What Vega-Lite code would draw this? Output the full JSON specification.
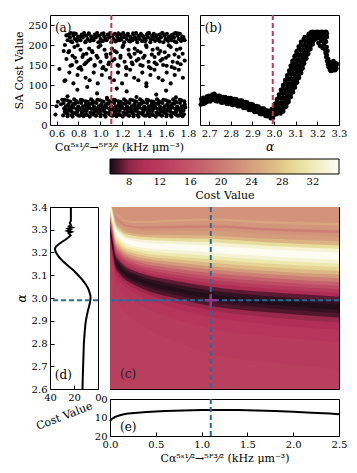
{
"$schema": "https://vega.github.io/schema/vega-lite/v6.json",
"padding": {"left": 13, "top": 13, "right": 4, "bottom": 4},
"bounds": "flush",
"spacing": 192,
"resolve": {"scale": {"x": "independent", "y": "independent", "color": "independent"}, "legend": {"color": "independent"}},
"config": {
  "font": "DejaVu Serif",
  "view": {"stroke": "#000", "strokeWidth": 1},
  "axis": {"domain": false, "grid": false, "labelFont": "DejaVu Serif", "labelFontSize": 10, "labelColor": "#000", "titleFont": "DejaVu Serif", "titleFontSize": 11, "titleFontWeight": "normal", "titleColor": "#000", "tickColor": "#000", "tickSize": -4, "labelPadding": 7, "titlePadding": 3, "labelFlush": false, "labelOverlap": false},
  "text": {"font": "DejaVu Serif"}
},
"datasets": {
"sa": [
{"x":0.660,"y":24},{"x":0.669,"y":41},{"x":0.664,"y":55},{"x":0.675,"y":33},{"x":0.672,"y":63},
{"x":0.688,"y":30},{"x":0.684,"y":47},{"x":0.695,"y":62},{"x":0.700,"y":22},{"x":0.692,"y":38},
{"x":0.703,"y":27},{"x":0.712,"y":36},{"x":0.707,"y":51},{"x":0.718,"y":44},{"x":0.715,"y":59},
{"x":0.731,"y":35},{"x":0.727,"y":58},{"x":0.738,"y":25},{"x":0.743,"y":49},{"x":0.735,"y":42},
{"x":0.746,"y":21},{"x":0.755,"y":44},{"x":0.750,"y":31},{"x":0.761,"y":64},{"x":0.758,"y":53},
{"x":0.774,"y":29},{"x":0.770,"y":53},{"x":0.781,"y":40},{"x":0.786,"y":26},{"x":0.778,"y":60},
{"x":0.789,"y":33},{"x":0.798,"y":46},{"x":0.793,"y":57},{"x":0.804,"y":23},{"x":0.801,"y":39},
{"x":0.817,"y":24},{"x":0.813,"y":41},{"x":0.824,"y":55},{"x":0.829,"y":33},{"x":0.821,"y":63},
{"x":0.832,"y":30},{"x":0.841,"y":47},{"x":0.836,"y":62},{"x":0.847,"y":22},{"x":0.844,"y":38},
{"x":0.860,"y":27},{"x":0.856,"y":36},{"x":0.867,"y":51},{"x":0.872,"y":44},{"x":0.864,"y":59},
{"x":0.875,"y":35},{"x":0.884,"y":58},{"x":0.879,"y":25},{"x":0.890,"y":49},{"x":0.887,"y":42},
{"x":0.903,"y":21},{"x":0.899,"y":44},{"x":0.910,"y":31},{"x":0.915,"y":64},{"x":0.907,"y":53},
{"x":0.918,"y":29},{"x":0.927,"y":53},{"x":0.922,"y":40},{"x":0.933,"y":26},{"x":0.930,"y":60},
{"x":0.946,"y":33},{"x":0.942,"y":46},{"x":0.953,"y":57},{"x":0.958,"y":23},{"x":0.950,"y":39},
{"x":0.961,"y":24},{"x":0.970,"y":41},{"x":0.965,"y":55},{"x":0.976,"y":33},{"x":0.973,"y":63},
{"x":0.989,"y":30},{"x":0.985,"y":47},{"x":0.996,"y":62},{"x":1.001,"y":22},{"x":0.993,"y":38},
{"x":1.004,"y":27},{"x":1.013,"y":36},{"x":1.008,"y":51},{"x":1.019,"y":44},{"x":1.016,"y":59},
{"x":1.032,"y":35},{"x":1.028,"y":58},{"x":1.039,"y":25},{"x":1.044,"y":49},{"x":1.036,"y":42},
{"x":1.047,"y":21},{"x":1.056,"y":44},{"x":1.051,"y":31},{"x":1.062,"y":64},{"x":1.059,"y":53},
{"x":1.075,"y":29},{"x":1.071,"y":53},{"x":1.082,"y":40},{"x":1.087,"y":26},{"x":1.079,"y":60},
{"x":1.090,"y":33},{"x":1.099,"y":46},{"x":1.094,"y":57},{"x":1.105,"y":23},{"x":1.102,"y":39},
{"x":1.118,"y":24},{"x":1.114,"y":41},{"x":1.125,"y":55},{"x":1.130,"y":33},{"x":1.122,"y":63},
{"x":1.133,"y":30},{"x":1.142,"y":47},{"x":1.137,"y":62},{"x":1.148,"y":22},{"x":1.145,"y":38},
{"x":1.161,"y":27},{"x":1.157,"y":36},{"x":1.168,"y":51},{"x":1.173,"y":44},{"x":1.165,"y":59},
{"x":1.176,"y":35},{"x":1.185,"y":58},{"x":1.180,"y":25},{"x":1.191,"y":49},{"x":1.188,"y":42},
{"x":1.204,"y":21},{"x":1.200,"y":44},{"x":1.211,"y":31},{"x":1.216,"y":64},{"x":1.208,"y":53},
{"x":1.219,"y":29},{"x":1.228,"y":53},{"x":1.223,"y":40},{"x":1.234,"y":26},{"x":1.231,"y":60},
{"x":1.247,"y":33},{"x":1.243,"y":46},{"x":1.254,"y":57},{"x":1.259,"y":23},{"x":1.251,"y":39},
{"x":1.262,"y":24},{"x":1.271,"y":41},{"x":1.266,"y":55},{"x":1.277,"y":33},{"x":1.274,"y":63},
{"x":1.290,"y":30},{"x":1.286,"y":47},{"x":1.297,"y":62},{"x":1.302,"y":22},{"x":1.294,"y":38},
{"x":1.305,"y":27},{"x":1.314,"y":36},{"x":1.309,"y":51},{"x":1.320,"y":44},{"x":1.317,"y":59},
{"x":1.333,"y":35},{"x":1.329,"y":58},{"x":1.340,"y":25},{"x":1.345,"y":49},{"x":1.337,"y":42},
{"x":1.348,"y":21},{"x":1.357,"y":44},{"x":1.352,"y":31},{"x":1.363,"y":64},{"x":1.360,"y":53},
{"x":1.376,"y":29},{"x":1.372,"y":53},{"x":1.383,"y":40},{"x":1.388,"y":26},{"x":1.380,"y":60},
{"x":1.391,"y":33},{"x":1.400,"y":46},{"x":1.395,"y":57},{"x":1.406,"y":23},{"x":1.403,"y":39},
{"x":1.419,"y":24},{"x":1.415,"y":41},{"x":1.426,"y":55},{"x":1.431,"y":33},{"x":1.423,"y":63},
{"x":1.434,"y":30},{"x":1.443,"y":47},{"x":1.438,"y":62},{"x":1.449,"y":22},{"x":1.446,"y":38},
{"x":1.462,"y":27},{"x":1.458,"y":36},{"x":1.469,"y":51},{"x":1.474,"y":44},{"x":1.466,"y":59},
{"x":1.477,"y":35},{"x":1.486,"y":58},{"x":1.481,"y":25},{"x":1.492,"y":49},{"x":1.489,"y":42},
{"x":1.505,"y":21},{"x":1.501,"y":44},{"x":1.512,"y":31},{"x":1.517,"y":64},{"x":1.509,"y":53},
{"x":1.520,"y":29},{"x":1.529,"y":53},{"x":1.524,"y":40},{"x":1.535,"y":26},{"x":1.532,"y":60},
{"x":1.548,"y":33},{"x":1.544,"y":46},{"x":1.555,"y":57},{"x":1.560,"y":23},{"x":1.552,"y":39},
{"x":1.563,"y":24},{"x":1.572,"y":41},{"x":1.567,"y":55},{"x":1.578,"y":33},{"x":1.575,"y":63},
{"x":1.591,"y":30},{"x":1.587,"y":47},{"x":1.598,"y":62},{"x":1.603,"y":22},{"x":1.595,"y":38},
{"x":1.606,"y":27},{"x":1.615,"y":36},{"x":1.610,"y":51},{"x":1.621,"y":44},{"x":1.618,"y":59},
{"x":1.634,"y":35},{"x":1.630,"y":58},{"x":1.641,"y":25},{"x":1.646,"y":49},{"x":1.638,"y":42},
{"x":1.649,"y":21},{"x":1.658,"y":44},{"x":1.653,"y":31},{"x":1.664,"y":64},{"x":1.661,"y":53},
{"x":1.677,"y":29},{"x":1.673,"y":53},{"x":1.684,"y":40},{"x":1.689,"y":26},{"x":1.681,"y":60},
{"x":1.692,"y":33},{"x":1.701,"y":46},{"x":1.696,"y":57},{"x":1.707,"y":23},{"x":1.704,"y":39},
{"x":1.720,"y":24},{"x":1.716,"y":41},{"x":1.727,"y":55},{"x":1.732,"y":33},{"x":1.724,"y":63},
{"x":1.735,"y":30},{"x":1.744,"y":47},{"x":1.739,"y":62},{"x":1.750,"y":22},{"x":1.747,"y":38},
{"x":1.763,"y":27},{"x":1.759,"y":36},{"x":1.770,"y":51},{"x":1.775,"y":44},{"x":1.767,"y":59},
{"x":0.700,"y":212},{"x":0.711,"y":226},{"x":0.722,"y":219},{"x":0.732,"y":230},{"x":0.743,"y":207},{"x":0.754,"y":223},{"x":0.765,"y":215},{"x":0.776,"y":228},{"x":0.786,"y":210},{"x":0.797,"y":221},{"x":0.808,"y":217},
{"x":0.819,"y":212},{"x":0.830,"y":226},{"x":0.840,"y":219},{"x":0.851,"y":230},{"x":0.862,"y":207},{"x":0.873,"y":223},{"x":0.884,"y":215},{"x":0.894,"y":228},{"x":0.905,"y":210},{"x":0.916,"y":221},{"x":0.927,"y":217},
{"x":0.938,"y":212},{"x":0.948,"y":226},{"x":0.959,"y":219},{"x":0.970,"y":230},{"x":0.981,"y":207},{"x":0.992,"y":223},{"x":1.002,"y":215},{"x":1.013,"y":228},{"x":1.024,"y":210},{"x":1.035,"y":221},{"x":1.046,"y":217},
{"x":1.056,"y":212},{"x":1.067,"y":226},{"x":1.078,"y":219},{"x":1.089,"y":230},{"x":1.100,"y":207},{"x":1.110,"y":223},{"x":1.121,"y":215},{"x":1.132,"y":228},{"x":1.143,"y":210},{"x":1.154,"y":221},{"x":1.164,"y":217},
{"x":1.175,"y":212},{"x":1.186,"y":226},{"x":1.197,"y":219},{"x":1.208,"y":230},{"x":1.218,"y":207},{"x":1.229,"y":223},{"x":1.240,"y":215},{"x":1.251,"y":228},{"x":1.262,"y":210},{"x":1.272,"y":221},{"x":1.283,"y":217},
{"x":1.294,"y":212},{"x":1.305,"y":226},{"x":1.316,"y":219},{"x":1.326,"y":230},{"x":1.337,"y":207},{"x":1.348,"y":223},{"x":1.359,"y":215},{"x":1.370,"y":228},{"x":1.380,"y":210},{"x":1.391,"y":221},{"x":1.402,"y":217},
{"x":1.413,"y":212},{"x":1.424,"y":226},{"x":1.434,"y":219},{"x":1.445,"y":230},{"x":1.456,"y":207},{"x":1.467,"y":223},{"x":1.478,"y":215},{"x":1.488,"y":228},{"x":1.499,"y":210},{"x":1.510,"y":221},{"x":1.521,"y":217},
{"x":1.532,"y":212},{"x":1.542,"y":226},{"x":1.553,"y":219},{"x":1.564,"y":230},{"x":1.575,"y":207},{"x":1.586,"y":223},{"x":1.596,"y":215},{"x":1.607,"y":228},{"x":1.618,"y":210},{"x":1.629,"y":221},{"x":1.640,"y":217},
{"x":1.650,"y":212},{"x":1.661,"y":226},{"x":1.672,"y":219},{"x":1.683,"y":230},{"x":1.694,"y":207},{"x":1.704,"y":223},{"x":1.715,"y":215},{"x":1.726,"y":228},{"x":1.737,"y":210},{"x":1.748,"y":221},{"x":1.758,"y":217},{"x":1.769,"y":212},
{"x":0.705,"y":224},{"x":0.732,"y":209},{"x":0.759,"y":229},{"x":0.786,"y":214},{"x":0.813,"y":220},{"x":0.840,"y":224},{"x":0.867,"y":209},{"x":0.894,"y":229},{"x":0.921,"y":214},{"x":0.948,"y":220},
{"x":0.975,"y":224},{"x":1.002,"y":209},{"x":1.029,"y":229},{"x":1.056,"y":214},{"x":1.083,"y":220},{"x":1.110,"y":224},{"x":1.137,"y":209},{"x":1.164,"y":229},{"x":1.191,"y":214},{"x":1.218,"y":220},
{"x":1.245,"y":224},{"x":1.272,"y":209},{"x":1.299,"y":229},{"x":1.326,"y":214},{"x":1.353,"y":220},{"x":1.380,"y":224},{"x":1.407,"y":209},{"x":1.434,"y":229},{"x":1.461,"y":214},{"x":1.488,"y":220},
{"x":1.515,"y":224},{"x":1.542,"y":209},{"x":1.569,"y":229},{"x":1.596,"y":214},{"x":1.623,"y":220},{"x":1.650,"y":224},{"x":1.677,"y":209},{"x":1.704,"y":229},{"x":1.731,"y":214},{"x":1.758,"y":220},
{"x":0.690,"y":165},{"x":0.708,"y":182},{"x":0.727,"y":148},{"x":0.745,"y":173},{"x":0.763,"y":195},{"x":0.782,"y":158},{"x":0.800,"y":142},{"x":0.818,"y":188},{"x":0.836,"y":170},{"x":0.855,"y":152},{"x":0.873,"y":178},{"x":0.891,"y":161},
{"x":0.910,"y":165},{"x":0.928,"y":182},{"x":0.946,"y":148},{"x":0.965,"y":173},{"x":0.983,"y":195},{"x":1.001,"y":158},{"x":1.019,"y":142},{"x":1.038,"y":188},{"x":1.056,"y":170},{"x":1.074,"y":152},{"x":1.093,"y":178},{"x":1.111,"y":161},
{"x":1.129,"y":165},{"x":1.148,"y":182},{"x":1.166,"y":148},{"x":1.184,"y":173},{"x":1.202,"y":195},{"x":1.221,"y":158},{"x":1.239,"y":142},{"x":1.257,"y":188},{"x":1.276,"y":170},{"x":1.294,"y":152},{"x":1.312,"y":178},{"x":1.331,"y":161},
{"x":1.349,"y":165},{"x":1.367,"y":182},{"x":1.385,"y":148},{"x":1.404,"y":173},{"x":1.422,"y":195},{"x":1.440,"y":158},{"x":1.459,"y":142},{"x":1.477,"y":188},{"x":1.495,"y":170},{"x":1.514,"y":152},{"x":1.532,"y":178},{"x":1.550,"y":161},
{"x":1.568,"y":165},{"x":1.587,"y":182},{"x":1.605,"y":148},{"x":1.623,"y":173},{"x":1.642,"y":195},{"x":1.660,"y":158},{"x":1.678,"y":142},{"x":1.697,"y":188},{"x":1.715,"y":170},{"x":1.733,"y":152},{"x":1.751,"y":178},{"x":1.770,"y":161},
{"x":0.715,"y":185},{"x":0.741,"y":150},{"x":0.767,"y":168},{"x":0.793,"y":199},{"x":0.819,"y":145},{"x":0.845,"y":176},{"x":0.871,"y":156},{"x":0.897,"y":191},{"x":0.923,"y":185},{"x":0.949,"y":150},
{"x":0.975,"y":168},{"x":1.001,"y":199},{"x":1.027,"y":145},{"x":1.053,"y":176},{"x":1.079,"y":156},{"x":1.105,"y":191},{"x":1.131,"y":185},{"x":1.157,"y":150},{"x":1.183,"y":168},{"x":1.209,"y":199},
{"x":1.235,"y":145},{"x":1.261,"y":176},{"x":1.287,"y":156},{"x":1.313,"y":191},{"x":1.339,"y":185},{"x":1.365,"y":150},{"x":1.391,"y":168},{"x":1.417,"y":199},{"x":1.443,"y":145},{"x":1.469,"y":176},
{"x":1.495,"y":156},{"x":1.521,"y":191},{"x":1.547,"y":185},{"x":1.573,"y":150},{"x":1.599,"y":168},{"x":1.625,"y":199},{"x":1.651,"y":145},{"x":1.677,"y":176},{"x":1.703,"y":156},{"x":1.729,"y":191},
{"x":0.680,"y":112},{"x":0.717,"y":131},{"x":0.754,"y":104},{"x":0.791,"y":125},{"x":0.828,"y":138},{"x":0.865,"y":118},{"x":0.902,"y":112},{"x":0.939,"y":131},{"x":0.976,"y":104},{"x":1.013,"y":125},
{"x":1.050,"y":138},{"x":1.087,"y":118},{"x":1.124,"y":112},{"x":1.161,"y":131},{"x":1.198,"y":104},{"x":1.235,"y":125},{"x":1.272,"y":138},{"x":1.309,"y":118},{"x":1.346,"y":112},{"x":1.383,"y":131},
{"x":1.420,"y":104},{"x":1.457,"y":125},{"x":1.494,"y":138},{"x":1.531,"y":118},{"x":1.568,"y":112},{"x":1.605,"y":131},{"x":1.642,"y":104},{"x":1.679,"y":125},{"x":1.716,"y":138},{"x":1.753,"y":118},
{"x":0.70,"y":72},{"x":0.79,"y":88},{"x":0.88,"y":95},{"x":0.97,"y":79},{"x":1.06,"y":68},{"x":1.15,"y":91},{"x":1.24,"y":84},{"x":1.33,"y":70},{"x":1.42,"y":97},{"x":1.51,"y":76},{"x":1.60,"y":86},{"x":1.69,"y":69},
{"x":0.590,"y":26},{"x":0.600,"y":47},{"x":0.612,"y":58},{"x":0.626,"y":140},{"x":0.641,"y":52},{"x":0.652,"y":63},{"x":0.665,"y":185},{"x":0.676,"y":200},{"x":0.689,"y":224},{"x":0.671,"y":110}
],
"sb": [
{"x":2.662,"y":51},{"x":2.666,"y":58},{"x":2.664,"y":65},{"x":2.671,"y":56},{"x":2.675,"y":63},{"x":2.673,"y":68},
{"x":2.679,"y":54},{"x":2.683,"y":61},{"x":2.681,"y":67},{"x":2.688,"y":57},{"x":2.692,"y":64},{"x":2.690,"y":71},
{"x":2.696,"y":61},{"x":2.700,"y":68},{"x":2.698,"y":73},{"x":2.705,"y":59},{"x":2.709,"y":66},{"x":2.707,"y":72},
{"x":2.713,"y":62},{"x":2.717,"y":69},{"x":2.715,"y":76},{"x":2.722,"y":66},{"x":2.726,"y":73},{"x":2.724,"y":78},
{"x":2.730,"y":60},{"x":2.734,"y":67},{"x":2.732,"y":73},{"x":2.739,"y":59},{"x":2.743,"y":66},{"x":2.741,"y":73},
{"x":2.747,"y":61},{"x":2.751,"y":68},{"x":2.749,"y":73},{"x":2.756,"y":56},{"x":2.760,"y":63},{"x":2.758,"y":69},
{"x":2.764,"y":56},{"x":2.768,"y":63},{"x":2.766,"y":70},{"x":2.773,"y":58},{"x":2.777,"y":65},{"x":2.775,"y":70},
{"x":2.781,"y":53},{"x":2.785,"y":60},{"x":2.783,"y":66},{"x":2.790,"y":53},{"x":2.794,"y":60},{"x":2.792,"y":67},
{"x":2.798,"y":55},{"x":2.802,"y":62},{"x":2.800,"y":67},{"x":2.807,"y":50},{"x":2.811,"y":57},{"x":2.809,"y":63},
{"x":2.815,"y":51},{"x":2.819,"y":58},{"x":2.817,"y":65},{"x":2.824,"y":52},{"x":2.828,"y":59},{"x":2.826,"y":64},
{"x":2.832,"y":47},{"x":2.836,"y":54},{"x":2.834,"y":60},{"x":2.841,"y":47},{"x":2.845,"y":54},{"x":2.843,"y":61},
{"x":2.849,"y":49},{"x":2.853,"y":56},{"x":2.851,"y":61},{"x":2.858,"y":43},{"x":2.862,"y":50},{"x":2.860,"y":56},
{"x":2.866,"y":43},{"x":2.870,"y":50},{"x":2.868,"y":57},{"x":2.875,"y":44},{"x":2.879,"y":51},{"x":2.877,"y":56},
{"x":2.883,"y":38},{"x":2.887,"y":45},{"x":2.885,"y":51},{"x":2.892,"y":38},{"x":2.896,"y":45},{"x":2.894,"y":52},
{"x":2.900,"y":39},{"x":2.904,"y":46},{"x":2.902,"y":51},{"x":2.909,"y":33},{"x":2.913,"y":40},{"x":2.911,"y":46},
{"x":2.917,"y":33},{"x":2.921,"y":40},{"x":2.919,"y":47},{"x":2.926,"y":34},{"x":2.930,"y":41},{"x":2.928,"y":46},
{"x":2.934,"y":28},{"x":2.938,"y":35},{"x":2.936,"y":41},{"x":2.943,"y":27},{"x":2.947,"y":34},{"x":2.945,"y":41},
{"x":2.951,"y":29},{"x":2.955,"y":36},{"x":2.953,"y":41},{"x":2.960,"y":23},{"x":2.964,"y":30},{"x":2.962,"y":36},
{"x":2.968,"y":22},{"x":2.972,"y":29},{"x":2.970,"y":36},{"x":2.977,"y":23},{"x":2.981,"y":30},{"x":2.979,"y":35},
{"x":2.985,"y":17},{"x":2.989,"y":24},{"x":2.987,"y":30},{"x":2.994,"y":17},{"x":2.998,"y":24},{"x":2.996,"y":30},
{"x":2.976,"y":28},{"x":2.994,"y":30},{"x":3.012,"y":27},{"x":3.030,"y":29},
{"x":2.989,"y":35},{"x":3.007,"y":32},{"x":3.025,"y":36},{"x":3.042,"y":34},
{"x":2.990,"y":40},{"x":3.008,"y":42},{"x":3.026,"y":39},{"x":3.044,"y":41},
{"x":3.003,"y":47},{"x":3.021,"y":44},{"x":3.039,"y":48},{"x":3.056,"y":46},
{"x":3.004,"y":52},{"x":3.022,"y":54},{"x":3.040,"y":51},{"x":3.058,"y":53},
{"x":3.014,"y":59},{"x":3.032,"y":56},{"x":3.050,"y":60},{"x":3.067,"y":58},
{"x":3.013,"y":64},{"x":3.031,"y":66},{"x":3.049,"y":63},{"x":3.067,"y":65},
{"x":3.024,"y":71},{"x":3.042,"y":68},{"x":3.060,"y":72},{"x":3.077,"y":70},
{"x":3.023,"y":76},{"x":3.041,"y":78},{"x":3.059,"y":75},{"x":3.077,"y":77},
{"x":3.034,"y":83},{"x":3.052,"y":80},{"x":3.070,"y":84},{"x":3.087,"y":82},
{"x":3.032,"y":88},{"x":3.050,"y":90},{"x":3.068,"y":87},{"x":3.086,"y":89},
{"x":3.043,"y":95},{"x":3.061,"y":92},{"x":3.079,"y":96},{"x":3.096,"y":94},
{"x":3.042,"y":100},{"x":3.060,"y":102},{"x":3.078,"y":99},{"x":3.096,"y":101},
{"x":3.053,"y":107},{"x":3.071,"y":104},{"x":3.089,"y":108},{"x":3.106,"y":106},
{"x":3.052,"y":112},{"x":3.070,"y":114},{"x":3.088,"y":111},{"x":3.106,"y":113},
{"x":3.062,"y":119},{"x":3.080,"y":116},{"x":3.098,"y":120},{"x":3.115,"y":118},
{"x":3.061,"y":124},{"x":3.079,"y":126},{"x":3.097,"y":123},{"x":3.115,"y":125},
{"x":3.072,"y":131},{"x":3.090,"y":128},{"x":3.108,"y":132},{"x":3.125,"y":130},
{"x":3.070,"y":136},{"x":3.088,"y":138},{"x":3.106,"y":135},{"x":3.124,"y":137},
{"x":3.079,"y":143},{"x":3.097,"y":140},{"x":3.115,"y":144},{"x":3.132,"y":142},
{"x":3.077,"y":148},{"x":3.095,"y":150},{"x":3.113,"y":147},{"x":3.131,"y":149},
{"x":3.086,"y":155},{"x":3.104,"y":152},{"x":3.122,"y":156},{"x":3.139,"y":154},
{"x":3.085,"y":160},{"x":3.103,"y":162},{"x":3.121,"y":159},{"x":3.139,"y":161},
{"x":3.096,"y":167},{"x":3.114,"y":164},{"x":3.132,"y":168},{"x":3.149,"y":166},
{"x":3.095,"y":172},{"x":3.113,"y":174},{"x":3.131,"y":171},{"x":3.149,"y":173},
{"x":3.105,"y":179},{"x":3.123,"y":176},{"x":3.141,"y":180},{"x":3.158,"y":178},
{"x":3.104,"y":184},{"x":3.122,"y":186},{"x":3.140,"y":183},{"x":3.158,"y":185},
{"x":3.115,"y":191},{"x":3.133,"y":188},{"x":3.151,"y":192},{"x":3.168,"y":190},
{"x":3.114,"y":196},{"x":3.132,"y":198},{"x":3.150,"y":195},{"x":3.168,"y":197},
{"x":3.125,"y":203},{"x":3.143,"y":200},{"x":3.161,"y":204},{"x":3.178,"y":202},
{"x":3.125,"y":208},{"x":3.143,"y":210},{"x":3.161,"y":207},{"x":3.179,"y":209},
{"x":3.137,"y":215},{"x":3.155,"y":212},{"x":3.173,"y":216},{"x":3.190,"y":214},
{"x":3.142,"y":220},{"x":3.160,"y":222},{"x":3.178,"y":219},{"x":3.196,"y":221},
{"x":3.160,"y":227},{"x":3.178,"y":224},{"x":3.196,"y":228},{"x":3.213,"y":226},
{"x":3.168,"y":218},{"x":3.168,"y":230},{"x":3.172,"y":222},{"x":3.172,"y":232},{"x":3.176,"y":216},{"x":3.176,"y":227},{"x":3.180,"y":224},{"x":3.180,"y":233},
{"x":3.184,"y":220},{"x":3.184,"y":229},{"x":3.188,"y":218},{"x":3.188,"y":230},{"x":3.192,"y":222},{"x":3.192,"y":232},{"x":3.196,"y":216},{"x":3.196,"y":227},
{"x":3.200,"y":224},{"x":3.200,"y":233},{"x":3.204,"y":220},{"x":3.204,"y":229},{"x":3.208,"y":218},{"x":3.208,"y":230},{"x":3.212,"y":222},{"x":3.212,"y":232},
{"x":3.216,"y":216},{"x":3.216,"y":227},{"x":3.220,"y":224},{"x":3.220,"y":233},{"x":3.224,"y":220},{"x":3.224,"y":229},{"x":3.228,"y":218},{"x":3.228,"y":230},
{"x":3.232,"y":222},{"x":3.232,"y":232},{"x":3.236,"y":216},{"x":3.236,"y":227},{"x":3.240,"y":224},{"x":3.240,"y":233},{"x":3.244,"y":220},{"x":3.244,"y":229},
{"x":3.205,"y":205},{"x":3.212,"y":198},{"x":3.218,"y":210},{"x":3.225,"y":192},{"x":3.230,"y":202},{"x":3.236,"y":188},{"x":3.240,"y":208},{"x":3.215,"y":215},{"x":3.228,"y":213},{"x":3.233,"y":220},
{"x":3.238,"y":180},{"x":3.241,"y":170},{"x":3.243,"y":195},{"x":3.245,"y":160},{"x":3.247,"y":185},{"x":3.249,"y":152},{"x":3.244,"y":175},{"x":3.250,"y":165},
{"x":3.252,"y":145},{"x":3.255,"y":158},{"x":3.258,"y":138},{"x":3.261,"y":150},{"x":3.264,"y":142},{"x":3.267,"y":155},{"x":3.270,"y":136},{"x":3.273,"y":148},{"x":3.276,"y":140},
{"x":3.279,"y":156},{"x":3.282,"y":137},{"x":3.285,"y":147},{"x":3.288,"y":141},{"x":3.290,"y":152},{"x":3.262,"y":135},{"x":3.256,"y":150},{"x":3.274,"y":160},{"x":3.284,"y":155}
],
"bands": [
{"k":0,"v":12.7},{"k":1,"v":12.0},{"k":2,"v":11.0},{"k":3,"v":9.6},{"k":4,"v":8.2},{"k":5,"v":6.9},{"k":6,"v":6.2},{"k":7,"v":5.7},{"k":8,"v":6.2},{"k":9,"v":7.1},
{"k":10,"v":9.3},{"k":11,"v":12.0},{"k":12,"v":14.5},{"k":13,"v":17.5},{"k":14,"v":20.5},{"k":15,"v":23.5},{"k":16,"v":26.5},{"k":17,"v":29},{"k":18,"v":31.5},{"k":19,"v":33.5},
{"k":20,"v":35.2},{"k":21,"v":33.5},{"k":22,"v":30},{"k":23,"v":26},{"k":24,"v":23.5},{"k":25,"v":22.6},{"k":26,"v":20.5},{"k":27,"v":22.8},{"k":28,"v":24.5},{"k":29,"v":22.6}
],
"hm": [
{"k":0,"c":0,"a":2.6},{"k":0,"c":2.5,"a":2.6},
{"k":1,"c":0,"a":3.175},{"k":1,"c":0.02,"a":3.105},{"k":1,"c":0.04,"a":3.045},{"k":1,"c":0.06,"a":3.0},{"k":1,"c":0.1,"a":2.97},{"k":1,"c":0.16,"a":2.94},{"k":1,"c":0.25,"a":2.91},{"k":1,"c":0.4,"a":2.868},{"k":1,"c":0.65,"a":2.82},{"k":1,"c":1.1,"a":2.755},{"k":1,"c":1.7,"a":2.72},{"k":1,"c":2.5,"a":2.687},
{"k":2,"c":0,"a":3.23},{"k":2,"c":0.02,"a":3.169},{"k":2,"c":0.04,"a":3.113},{"k":2,"c":0.06,"a":3.07},{"k":2,"c":0.1,"a":3.043},{"k":2,"c":0.16,"a":3.015},{"k":2,"c":0.25,"a":2.989},{"k":2,"c":0.4,"a":2.954},{"k":2,"c":0.65,"a":2.917},{"k":2,"c":1.1,"a":2.865},{"k":2,"c":1.7,"a":2.834},{"k":2,"c":2.5,"a":2.806},
{"k":3,"c":0,"a":3.255},{"k":3,"c":0.02,"a":3.198},{"k":3,"c":0.04,"a":3.144},{"k":3,"c":0.06,"a":3.102},{"k":3,"c":0.1,"a":3.076},{"k":3,"c":0.16,"a":3.049},{"k":3,"c":0.25,"a":3.025},{"k":3,"c":0.4,"a":2.994},{"k":3,"c":0.65,"a":2.961},{"k":3,"c":1.1,"a":2.915},{"k":3,"c":1.7,"a":2.886},{"k":3,"c":2.5,"a":2.86},
{"k":4,"c":0,"a":3.27},{"k":4,"c":0.02,"a":3.215},{"k":4,"c":0.04,"a":3.163},{"k":4,"c":0.06,"a":3.122},{"k":4,"c":0.1,"a":3.095},{"k":4,"c":0.16,"a":3.069},{"k":4,"c":0.25,"a":3.047},{"k":4,"c":0.4,"a":3.018},{"k":4,"c":0.65,"a":2.987},{"k":4,"c":1.1,"a":2.945},{"k":4,"c":1.7,"a":2.918},{"k":4,"c":2.5,"a":2.892},
{"k":5,"c":0,"a":3.28},{"k":5,"c":0.02,"a":3.227},{"k":5,"c":0.04,"a":3.175},{"k":5,"c":0.06,"a":3.134},{"k":5,"c":0.1,"a":3.109},{"k":5,"c":0.16,"a":3.083},{"k":5,"c":0.25,"a":3.061},{"k":5,"c":0.4,"a":3.033},{"k":5,"c":0.65,"a":3.005},{"k":5,"c":1.1,"a":2.965},{"k":5,"c":1.7,"a":2.938},{"k":5,"c":2.5,"a":2.914},
{"k":6,"c":0,"a":3.289},{"k":6,"c":0.02,"a":3.237},{"k":6,"c":0.04,"a":3.186},{"k":6,"c":0.06,"a":3.146},{"k":6,"c":0.1,"a":3.12},{"k":6,"c":0.16,"a":3.095},{"k":6,"c":0.25,"a":3.074},{"k":6,"c":0.4,"a":3.048},{"k":6,"c":0.65,"a":3.021},{"k":6,"c":1.1,"a":2.983},{"k":6,"c":1.7,"a":2.957},{"k":6,"c":2.5,"a":2.933},
{"k":7,"c":0,"a":3.296},{"k":7,"c":0.02,"a":3.245},{"k":7,"c":0.04,"a":3.195},{"k":7,"c":0.06,"a":3.155},{"k":7,"c":0.1,"a":3.13},{"k":7,"c":0.16,"a":3.105},{"k":7,"c":0.25,"a":3.084},{"k":7,"c":0.4,"a":3.059},{"k":7,"c":0.65,"a":3.033},{"k":7,"c":1.1,"a":2.997},{"k":7,"c":1.7,"a":2.972},{"k":7,"c":2.5,"a":2.948},
{"k":8,"c":0,"a":3.306},{"k":8,"c":0.02,"a":3.257},{"k":8,"c":0.04,"a":3.207},{"k":8,"c":0.06,"a":3.168},{"k":8,"c":0.1,"a":3.143},{"k":8,"c":0.16,"a":3.118},{"k":8,"c":0.25,"a":3.099},{"k":8,"c":0.4,"a":3.075},{"k":8,"c":0.65,"a":3.051},{"k":8,"c":1.1,"a":3.017},{"k":8,"c":1.7,"a":2.993},{"k":8,"c":2.5,"a":2.97},
{"k":9,"c":0,"a":3.314},{"k":9,"c":0.02,"a":3.266},{"k":9,"c":0.04,"a":3.217},{"k":9,"c":0.06,"a":3.178},{"k":9,"c":0.1,"a":3.154},{"k":9,"c":0.16,"a":3.129},{"k":9,"c":0.25,"a":3.11},{"k":9,"c":0.4,"a":3.087},{"k":9,"c":0.65,"a":3.065},{"k":9,"c":1.1,"a":3.033},{"k":9,"c":1.7,"a":3.009},{"k":9,"c":2.5,"a":2.987},
{"k":10,"c":0,"a":3.323},{"k":10,"c":0.02,"a":3.276},{"k":10,"c":0.04,"a":3.228},{"k":10,"c":0.06,"a":3.189},{"k":10,"c":0.1,"a":3.165},{"k":10,"c":0.16,"a":3.141},{"k":10,"c":0.25,"a":3.122},{"k":10,"c":0.4,"a":3.101},{"k":10,"c":0.65,"a":3.08},{"k":10,"c":1.1,"a":3.05},{"k":10,"c":1.7,"a":3.027},{"k":10,"c":2.5,"a":3.006},
{"k":11,"c":0,"a":3.33},{"k":11,"c":0.02,"a":3.285},{"k":11,"c":0.04,"a":3.237},{"k":11,"c":0.06,"a":3.198},{"k":11,"c":0.1,"a":3.175},{"k":11,"c":0.16,"a":3.151},{"k":11,"c":0.25,"a":3.133},{"k":11,"c":0.4,"a":3.112},{"k":11,"c":0.65,"a":3.093},{"k":11,"c":1.1,"a":3.065},{"k":11,"c":1.7,"a":3.042},{"k":11,"c":2.5,"a":3.022},
{"k":12,"c":0,"a":3.338},{"k":12,"c":0.02,"a":3.294},{"k":12,"c":0.04,"a":3.247},{"k":12,"c":0.06,"a":3.208},{"k":12,"c":0.1,"a":3.185},{"k":12,"c":0.16,"a":3.161},{"k":12,"c":0.25,"a":3.144},{"k":12,"c":0.4,"a":3.124},{"k":12,"c":0.65,"a":3.106},{"k":12,"c":1.1,"a":3.08},{"k":12,"c":1.7,"a":3.058},{"k":12,"c":2.5,"a":3.038},
{"k":13,"c":0,"a":3.345},{"k":13,"c":0.02,"a":3.302},{"k":13,"c":0.04,"a":3.256},{"k":13,"c":0.06,"a":3.218},{"k":13,"c":0.1,"a":3.194},{"k":13,"c":0.16,"a":3.171},{"k":13,"c":0.25,"a":3.155},{"k":13,"c":0.4,"a":3.136},{"k":13,"c":0.65,"a":3.119},{"k":13,"c":1.1,"a":3.095},{"k":13,"c":1.7,"a":3.074},{"k":13,"c":2.5,"a":3.054},
{"k":14,"c":0,"a":3.353},{"k":14,"c":0.02,"a":3.311},{"k":14,"c":0.04,"a":3.265},{"k":14,"c":0.06,"a":3.227},{"k":14,"c":0.1,"a":3.204},{"k":14,"c":0.16,"a":3.181},{"k":14,"c":0.25,"a":3.166},{"k":14,"c":0.4,"a":3.148},{"k":14,"c":0.65,"a":3.132},{"k":14,"c":1.1,"a":3.11},{"k":14,"c":1.7,"a":3.089},{"k":14,"c":2.5,"a":3.07},
{"k":15,"c":0,"a":3.36},{"k":15,"c":0.02,"a":3.32},{"k":15,"c":0.04,"a":3.274},{"k":15,"c":0.06,"a":3.237},{"k":15,"c":0.1,"a":3.214},{"k":15,"c":0.16,"a":3.192},{"k":15,"c":0.25,"a":3.176},{"k":15,"c":0.4,"a":3.16},{"k":15,"c":0.65,"a":3.146},{"k":15,"c":1.1,"a":3.125},{"k":15,"c":1.7,"a":3.105},{"k":15,"c":2.5,"a":3.087},
{"k":16,"c":0,"a":3.368},{"k":16,"c":0.02,"a":3.328},{"k":16,"c":0.04,"a":3.284},{"k":16,"c":0.06,"a":3.246},{"k":16,"c":0.1,"a":3.224},{"k":16,"c":0.16,"a":3.202},{"k":16,"c":0.25,"a":3.187},{"k":16,"c":0.4,"a":3.172},{"k":16,"c":0.65,"a":3.159},{"k":16,"c":1.1,"a":3.14},{"k":16,"c":1.7,"a":3.12},{"k":16,"c":2.5,"a":3.103},
{"k":17,"c":0,"a":3.375},{"k":17,"c":0.02,"a":3.337},{"k":17,"c":0.04,"a":3.293},{"k":17,"c":0.06,"a":3.256},{"k":17,"c":0.1,"a":3.234},{"k":17,"c":0.16,"a":3.212},{"k":17,"c":0.25,"a":3.198},{"k":17,"c":0.4,"a":3.184},{"k":17,"c":0.65,"a":3.172},{"k":17,"c":1.1,"a":3.155},{"k":17,"c":1.7,"a":3.136},{"k":17,"c":2.5,"a":3.119},
{"k":18,"c":0,"a":3.383},{"k":18,"c":0.02,"a":3.346},{"k":18,"c":0.04,"a":3.302},{"k":18,"c":0.06,"a":3.266},{"k":18,"c":0.1,"a":3.244},{"k":18,"c":0.16,"a":3.222},{"k":18,"c":0.25,"a":3.209},{"k":18,"c":0.4,"a":3.195},{"k":18,"c":0.65,"a":3.185},{"k":18,"c":1.1,"a":3.17},{"k":18,"c":1.7,"a":3.152},{"k":18,"c":2.5,"a":3.135},
{"k":19,"c":0,"a":3.39},{"k":19,"c":0.02,"a":3.354},{"k":19,"c":0.04,"a":3.312},{"k":19,"c":0.06,"a":3.275},{"k":19,"c":0.1,"a":3.254},{"k":19,"c":0.16,"a":3.232},{"k":19,"c":0.25,"a":3.22},{"k":19,"c":0.4,"a":3.207},{"k":19,"c":0.65,"a":3.198},{"k":19,"c":1.1,"a":3.185},{"k":19,"c":1.7,"a":3.167},{"k":19,"c":2.5,"a":3.151},
{"k":20,"c":0,"a":3.398},{"k":20,"c":0.02,"a":3.363},{"k":20,"c":0.04,"a":3.321},{"k":20,"c":0.06,"a":3.285},{"k":20,"c":0.1,"a":3.264},{"k":20,"c":0.16,"a":3.243},{"k":20,"c":0.25,"a":3.23},{"k":20,"c":0.4,"a":3.219},{"k":20,"c":0.65,"a":3.212},{"k":20,"c":1.1,"a":3.2},{"k":20,"c":1.7,"a":3.183},{"k":20,"c":2.5,"a":3.168},
{"k":21,"c":0,"a":3.413},{"k":21,"c":0.02,"a":3.381},{"k":21,"c":0.04,"a":3.34},{"k":21,"c":0.06,"a":3.304},{"k":21,"c":0.1,"a":3.284},{"k":21,"c":0.16,"a":3.263},{"k":21,"c":0.25,"a":3.252},{"k":21,"c":0.4,"a":3.243},{"k":21,"c":0.65,"a":3.238},{"k":21,"c":1.1,"a":3.23},{"k":21,"c":1.7,"a":3.214},{"k":21,"c":2.5,"a":3.2},
{"k":22,"c":0,"a":3.42},{"k":22,"c":0.02,"a":3.389},{"k":22,"c":0.04,"a":3.349},{"k":22,"c":0.06,"a":3.314},{"k":22,"c":0.1,"a":3.293},{"k":22,"c":0.16,"a":3.273},{"k":22,"c":0.25,"a":3.263},{"k":22,"c":0.4,"a":3.255},{"k":22,"c":0.65,"a":3.251},{"k":22,"c":1.1,"a":3.245},{"k":22,"c":1.7,"a":3.23},{"k":22,"c":2.5,"a":3.216},
{"k":23,"c":0,"a":3.428},{"k":23,"c":0.02,"a":3.398},{"k":23,"c":0.04,"a":3.358},{"k":23,"c":0.06,"a":3.323},{"k":23,"c":0.1,"a":3.303},{"k":23,"c":0.16,"a":3.283},{"k":23,"c":0.25,"a":3.274},{"k":23,"c":0.4,"a":3.267},{"k":23,"c":0.65,"a":3.264},{"k":23,"c":1.1,"a":3.26},{"k":23,"c":1.7,"a":3.245},{"k":23,"c":2.5,"a":3.232},
{"k":24,"c":0,"a":3.435},{"k":24,"c":0.02,"a":3.407},{"k":24,"c":0.04,"a":3.367},{"k":24,"c":0.06,"a":3.333},{"k":24,"c":0.1,"a":3.313},{"k":24,"c":0.16,"a":3.294},{"k":24,"c":0.25,"a":3.284},{"k":24,"c":0.4,"a":3.278},{"k":24,"c":0.65,"a":3.278},{"k":24,"c":1.1,"a":3.275},{"k":24,"c":1.7,"a":3.261},{"k":24,"c":2.5,"a":3.249},
{"k":25,"c":0,"a":3.445},{"k":25,"c":0.02,"a":3.418},{"k":25,"c":0.04,"a":3.38},{"k":25,"c":0.06,"a":3.346},{"k":25,"c":0.1,"a":3.326},{"k":25,"c":0.16,"a":3.307},{"k":25,"c":0.25,"a":3.299},{"k":25,"c":0.4,"a":3.294},{"k":25,"c":0.65,"a":3.295},{"k":25,"c":1.1,"a":3.295},{"k":25,"c":1.7,"a":3.282},{"k":25,"c":2.5,"a":3.27},
{"k":26,"c":0,"a":3.453},{"k":26,"c":0.02,"a":3.427},{"k":26,"c":0.04,"a":3.389},{"k":26,"c":0.06,"a":3.355},{"k":26,"c":0.1,"a":3.336},{"k":26,"c":0.16,"a":3.317},{"k":26,"c":0.25,"a":3.31},{"k":26,"c":0.4,"a":3.306},{"k":26,"c":0.65,"a":3.308},{"k":26,"c":1.1,"a":3.31},{"k":26,"c":1.7,"a":3.297},{"k":26,"c":2.5,"a":3.286},
{"k":27,"c":0,"a":3.458},{"k":27,"c":0.02,"a":3.433},{"k":27,"c":0.04,"a":3.395},{"k":27,"c":0.06,"a":3.362},{"k":27,"c":0.1,"a":3.343},{"k":27,"c":0.16,"a":3.324},{"k":27,"c":0.25,"a":3.317},{"k":27,"c":0.4,"a":3.314},{"k":27,"c":0.65,"a":3.317},{"k":27,"c":1.1,"a":3.32},{"k":27,"c":1.7,"a":3.308},{"k":27,"c":2.5,"a":3.297},
{"k":28,"c":0,"a":3.468},{"k":28,"c":0.02,"a":3.444},{"k":28,"c":0.04,"a":3.408},{"k":28,"c":0.06,"a":3.374},{"k":28,"c":0.1,"a":3.356},{"k":28,"c":0.16,"a":3.338},{"k":28,"c":0.25,"a":3.331},{"k":28,"c":0.4,"a":3.33},{"k":28,"c":0.65,"a":3.335},{"k":28,"c":1.1,"a":3.34},{"k":28,"c":1.7,"a":3.328},{"k":28,"c":2.5,"a":3.319},
{"k":29,"c":0,"a":3.473},{"k":29,"c":0.02,"a":3.45},{"k":29,"c":0.04,"a":3.414},{"k":29,"c":0.06,"a":3.381},{"k":29,"c":0.1,"a":3.363},{"k":29,"c":0.16,"a":3.345},{"k":29,"c":0.25,"a":3.338},{"k":29,"c":0.4,"a":3.338},{"k":29,"c":0.65,"a":3.344},{"k":29,"c":1.1,"a":3.35},{"k":29,"c":1.7,"a":3.339},{"k":29,"c":2.5,"a":3.33}
],
"prof": [
{"a":2.60,"c":12.9},{"a":2.65,"c":12.7},{"a":2.70,"c":12.4},{"a":2.75,"c":12.1},{"a":2.80,"c":11.8},{"a":2.85,"c":11.1},{"a":2.88,"c":10.6},{"a":2.90,"c":10.1},{"a":2.92,"c":9.4},{"a":2.94,"c":8.6},{"a":2.96,"c":7.6},{"a":2.98,"c":6.7},{"a":3.00,"c":6.2},{"a":3.01,"c":6.3},{"a":3.02,"c":6.8},{"a":3.04,"c":8.0},{"a":3.06,"c":10.2},{"a":3.08,"c":13.0},{"a":3.10,"c":16.5},{"a":3.12,"c":20.0},{"a":3.14,"c":24.5},{"a":3.16,"c":29.0},{"a":3.18,"c":32.5},{"a":3.20,"c":35.0},{"a":3.215,"c":36.0},{"a":3.225,"c":35.2},{"a":3.235,"c":33.0},{"a":3.245,"c":30.5},{"a":3.255,"c":27.5},{"a":3.265,"c":25.0},{"a":3.275,"c":22.8},{"a":3.285,"c":24.5},{"a":3.29,"c":22.0},{"a":3.295,"c":25.5},{"a":3.30,"c":23.0},{"a":3.305,"c":25.0},{"a":3.31,"c":21.5},{"a":3.315,"c":24.0},{"a":3.32,"c":22.5},{"a":3.33,"c":23.5},{"a":3.34,"c":22.6},{"a":3.36,"c":22.6},{"a":3.40,"c":22.6}
],
"ecut": [
{"c":0,"v":12.0},{"c":0.02,"v":10.8},{"c":0.05,"v":9.8},{"c":0.1,"v":8.9},{"c":0.15,"v":8.3},{"c":0.2,"v":7.9},{"c":0.3,"v":7.4},{"c":0.4,"v":7.0},{"c":0.5,"v":6.7},{"c":0.6,"v":6.5},{"c":0.8,"v":6.2},{"c":1.0,"v":6.0},{"c":1.2,"v":5.9},{"c":1.4,"v":6.0},{"c":1.6,"v":6.2},{"c":1.8,"v":6.5},{"c":2.0,"v":6.9},{"c":2.2,"v":7.4},{"c":2.4,"v":7.9},{"c":2.5,"v":8.2}
]
},
"vconcat": [
{
 "hconcat": [
  {
   "width": 138, "height": 110,
   "layer": [
    {"data": {"name": "sa"}, "mark": {"type": "circle", "size": 17, "color": "#000", "opacity": 1},
     "encoding": {
      "x": {"field": "x", "type": "quantitative", "scale": {"domain": [0.54, 1.8], "nice": false, "zero": false}, "axis": {"values": [0.6,0.8,1.0,1.2,1.4,1.6,1.8], "tickCount": 20, "format": ".1f", "title": "Cα⁵ˢ¹⁄²→⁵ᴾ³⁄² (kHz μm⁻³)"}},
      "y": {"field": "y", "type": "quantitative", "scale": {"domain": [0, 275], "nice": false}, "axis": {"values": [0,50,100,150,200,250], "tickCount": 20, "title": "SA Cost Value"}}
     }},
    {"data": {"values": [{}]}, "mark": {"type": "rule", "color": "#c8334f", "strokeWidth": 2, "strokeDash": [5, 3]}, "encoding": {"x": {"datum": 1.1}}},
    {"data": {"values": [{}]}, "mark": {"type": "text", "align": "left", "baseline": "middle", "fontSize": 12, "color": "#000"}, "encoding": {"x": {"datum": 0.585}, "y": {"datum": 243}, "text": {"value": "(a)"}}}
   ]
  },
  {
   "width": 139, "height": 110,
   "layer": [
    {"data": {"name": "sb"}, "mark": {"type": "circle", "size": 22, "color": "#000", "opacity": 1},
     "encoding": {
      "x": {"field": "x", "type": "quantitative", "scale": {"domain": [2.658, 3.3], "nice": false, "zero": false}, "axis": {"values": [2.7,2.8,2.9,3.0,3.1,3.2,3.3], "tickCount": 20, "format": ".1f", "title": "α", "titleFontStyle": "italic", "titleFontSize": 12}},
      "y": {"field": "y", "type": "quantitative", "scale": {"domain": [0, 275], "nice": false}, "axis": {"values": [0,50,100,150,200,250], "tickCount": 20, "labels": false, "title": null}}
     }},
    {"data": {"values": [{}]}, "mark": {"type": "rule", "color": "#c8334f", "strokeWidth": 2, "strokeDash": [5, 3]}, "encoding": {"x": {"datum": 2.994}}},
    {"data": {"values": [{}]}, "mark": {"type": "text", "align": "left", "baseline": "middle", "fontSize": 12, "color": "#000"}, "encoding": {"x": {"datum": 2.68}, "y": {"datum": 243}, "text": {"value": "(b)"}}}
   ]
  }
 ],
 "spacing": 12,
 "bounds": "flush",
 "resolve": {"scale": {"x": "independent", "y": "independent"}}
},
{
 "hconcat": [
  {
   "width": 48, "height": 182,
   "layer": [
    {"data": {"name": "prof"}, "mark": {"type": "line", "color": "#000", "strokeWidth": 2},
     "encoding": {
      "x": {"field": "c", "type": "quantitative", "scale": {"domain": [0, 40], "reverse": true, "nice": false}, "axis": {"values": [0, 20, 40], "tickCount": 20, "title": null}},
      "y": {"field": "a", "type": "quantitative", "scale": {"domain": [2.6, 3.4], "nice": false, "zero": false}, "axis": {"values": [2.6,2.7,2.8,2.9,3.0,3.1,3.2,3.3,3.4], "tickCount": 20, "format": ".1f", "title": "α", "titleFontStyle": "italic", "titleFontSize": 12}},
      "order": {"field": "a", "type": "quantitative"}
     }},
    {"data": {"values": [{}]}, "mark": {"type": "rule", "color": "#1f6e9e", "strokeWidth": 2, "strokeDash": [5, 3]}, "encoding": {"y": {"datum": 2.99}}},
    {"data": {"values": [{}]}, "mark": {"type": "text", "align": "left", "baseline": "middle", "fontSize": 12, "color": "#000"}, "encoding": {"x": {"datum": 36}, "y": {"datum": 2.66}, "text": {"value": "(d)"}}}
   ]
  },
  {
   "vconcat": [
    {
     "width": 229, "height": 182,
     "layer": [
      {"data": {"name": "hm"},
       "transform": [{"lookup": "k", "from": {"data": {"name": "bands"}, "key": "k", "fields": ["v"]}}],
       "mark": {"type": "area", "interpolate": "monotone", "clip": true, "orient": "vertical"},
       "encoding": {
        "x": {"field": "c", "type": "quantitative", "scale": {"domain": [0, 2.5], "nice": false}, "axis": {"values": [0,0.5,1.0,1.5,2.0,2.5], "tickCount": 20, "labels": false, "title": null}},
        "y": {"field": "a", "type": "quantitative", "stack": null, "scale": {"domain": [2.6, 3.4], "nice": false, "zero": false}, "axis": {"values": [2.6,2.7,2.8,2.9,3.0,3.1,3.2,3.3,3.4], "tickCount": 20, "labels": false, "title": null}},
        "y2": {"datum": 3.4},
        "detail": {"field": "k", "type": "nominal"},
        "color": {"field": "v", "type": "quantitative",
          "scale": {"domain": [5.5, 6.8, 7.6, 8.4, 9.5, 12.5, 16.5, 20, 23, 26, 28.5, 31, 33.5, 35.4],
                    "range": ["#1a0c14", "#4a1628", "#7c1f42", "#a22b50", "#b12e56", "#b83e5d", "#c4596c", "#cc7a74", "#d3977b", "#dcb383", "#e5cf90", "#ece6a6", "#f5f3d4", "#fdfdf6"], "interpolate": "rgb"},
          "legend": {"orient": "none", "legendX": 0, "legendY": -48, "direction": "horizontal", "gradientLength": 229, "gradientThickness": 15, "title": "Cost Value", "titleOrient": "bottom", "titleAnchor": "middle", "titleFont": "DejaVu Serif", "titleFontSize": 11, "titleFontWeight": "normal", "titleColor": "#000", "titlePadding": 3, "labelFont": "DejaVu Serif", "labelFontSize": 10, "labelColor": "#000", "labelOffset": 3, "labelOverlap": false, "values": [8,12,16,20,24,28,32], "gradientStrokeColor": "#000", "gradientStrokeWidth": 1, "padding": 0}}
       }},
      {"data": {"values": [{}]}, "mark": {"type": "rule", "color": "#1f6e9e", "strokeWidth": 2, "strokeDash": [5, 3]}, "encoding": {"x": {"datum": 1.1}}},
      {"data": {"values": [{}]}, "mark": {"type": "rule", "color": "#1f6e9e", "strokeWidth": 2, "strokeDash": [5, 3]}, "encoding": {"y": {"datum": 2.99}}},
      {"data": {"values": [{}]}, "mark": {"type": "point", "shape": "M-1,0L1,0M0,-1L0,1", "size": 150, "filled": false, "stroke": "#8e3b8e", "strokeWidth": 2.5, "opacity": 1}, "encoding": {"x": {"datum": 1.1}, "y": {"datum": 2.99}}},
      {"data": {"values": [{}]}, "mark": {"type": "text", "align": "left", "baseline": "middle", "fontSize": 12, "color": "#222"}, "encoding": {"x": {"datum": 0.11}, "y": {"datum": 2.666}, "text": {"value": "(c)"}}}
     ]
    },
    {
     "width": 229, "height": 37,
     "layer": [
      {"data": {"name": "ecut"}, "mark": {"type": "line", "color": "#000", "strokeWidth": 2},
       "encoding": {
        "x": {"field": "c", "type": "quantitative", "scale": {"domain": [0, 2.5], "nice": false}, "axis": {"values": [0,0.5,1.0,1.5,2.0,2.5], "tickCount": 20, "format": ".1f", "title": "Cα⁵ˢ¹⁄²→⁵ᴾ³⁄² (kHz μm⁻³)"}},
        "y": {"field": "v", "type": "quantitative", "scale": {"domain": [0, 20], "reverse": true, "nice": false}, "axis": {"values": [0, 10, 20], "tickCount": 20, "title": "Cost Value", "titleAngle": -21, "titleX": -46, "titleY": 17, "titleAlign": "center", "titleBaseline": "middle"}}
       }},
      {"data": {"values": [{}]}, "mark": {"type": "rule", "color": "#1f6e9e", "strokeWidth": 2, "strokeDash": [5, 3]}, "encoding": {"x": {"datum": 1.1}}},
      {"data": {"values": [{}]}, "mark": {"type": "text", "align": "left", "baseline": "middle", "fontSize": 12, "color": "#000"}, "encoding": {"x": {"datum": 0.11}, "y": {"datum": 15}, "text": {"value": "(e)"}}}
     ]
    }
   ],
   "spacing": 10,
   "bounds": "flush",
   "resolve": {"scale": {"x": "independent", "y": "independent", "color": "independent"}, "legend": {"color": "independent"}}
  }
 ],
 "spacing": 12,
 "bounds": "flush",
 "resolve": {"scale": {"x": "independent", "y": "independent", "color": "independent"}, "legend": {"color": "independent"}}
}
]
}
